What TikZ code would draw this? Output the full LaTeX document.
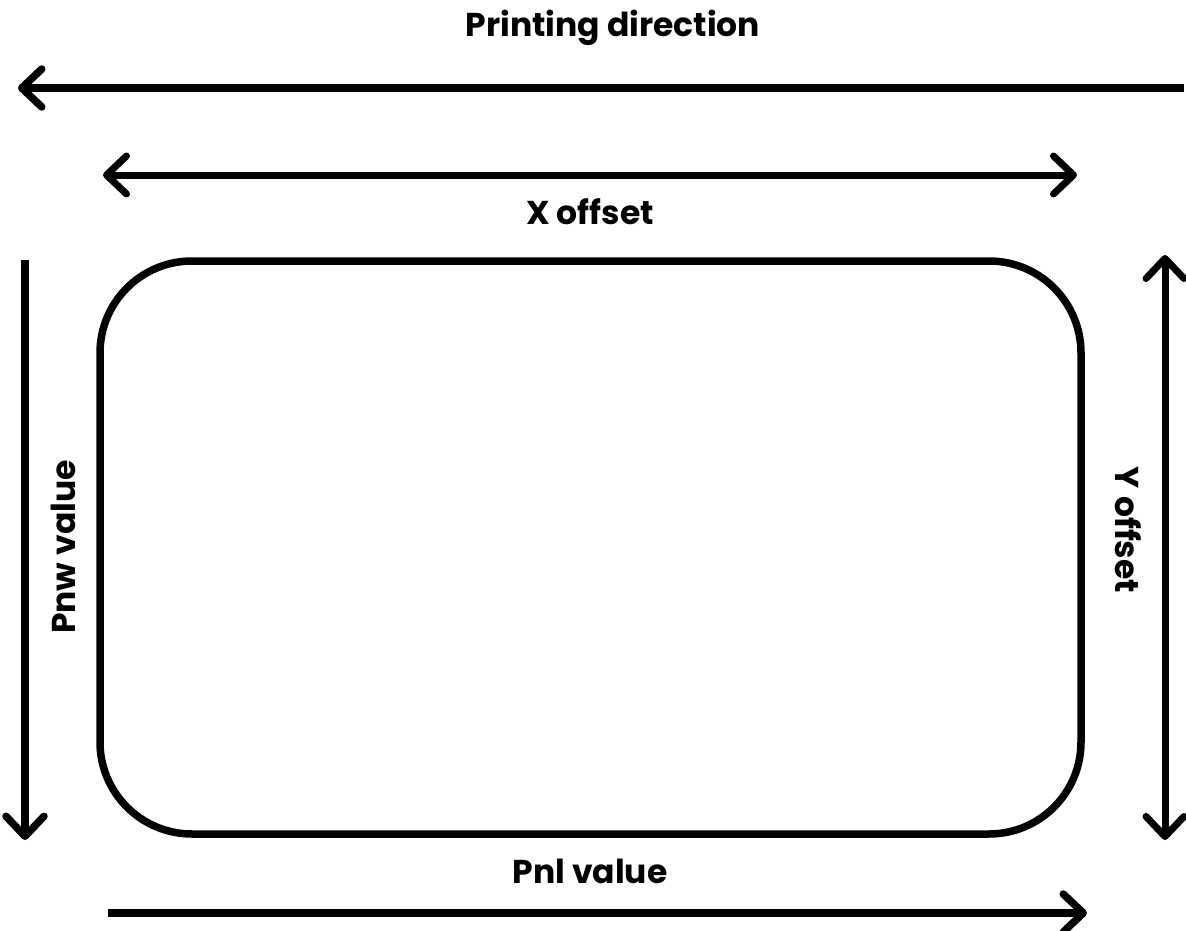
\documentclass[tikz,border=0pt]{standalone}
\usepackage{fontspec}
\setmainfont{Poppins}
\usetikzlibrary{arrows.meta}
\tikzset{
  tipb/.tip={Straight Barb[length=20pt,width=38pt,line cap=round,line join=round]},
  arr/.style={line width=7.5pt, -tipb},
  darr/.style={line width=7pt, tipb-tipb},
  lbl/.style={font=\bfseries\fontsize{33}{38}\selectfont, inner sep=0pt},
  card/.style={line width=7.5pt, rounded corners=92pt}
}
\begin{document}
\begin{tikzpicture}[x=1pt,y=-1pt]
\useasboundingbox (0,0) rectangle (1186,931);
% printing direction
\coordinate (pdS) at (1184,88);
\coordinate (pdE) at (18,88);
\draw[arr] (pdS) -- (pdE);
\node[lbl] (pd) at (613,28) {Printing direction};
% X offset
\coordinate (xoS) at (103,175);
\coordinate (xoE) at (1077,175);
\draw[darr] (xoS) -- (xoE);
\node[lbl] (xo) at (590,212) {X offset};
% card
\draw[card] (100,261) rectangle (1081,834);
% Pnw
\coordinate (pwS) at (25,260);
\coordinate (pwE) at (25,840);
\draw[arr] (pwS) -- (pwE);
\node[lbl, rotate=90] (pw) at (63,547) {Pnw value};
% Y offset
\coordinate (yoS) at (1165,255);
\coordinate (yoE) at (1165,840);
\draw[darr] (yoS) -- (yoE);
\node[lbl, rotate=-90] (yo) at (1128,530) {Y offset};
% Pnl
\node[lbl] (pl) at (590,871) {Pnl value};
\coordinate (plS) at (108,913);
\coordinate (plE) at (1087,913);
\draw[arr] (plS) -- (plE);
\end{tikzpicture}
\end{document}
